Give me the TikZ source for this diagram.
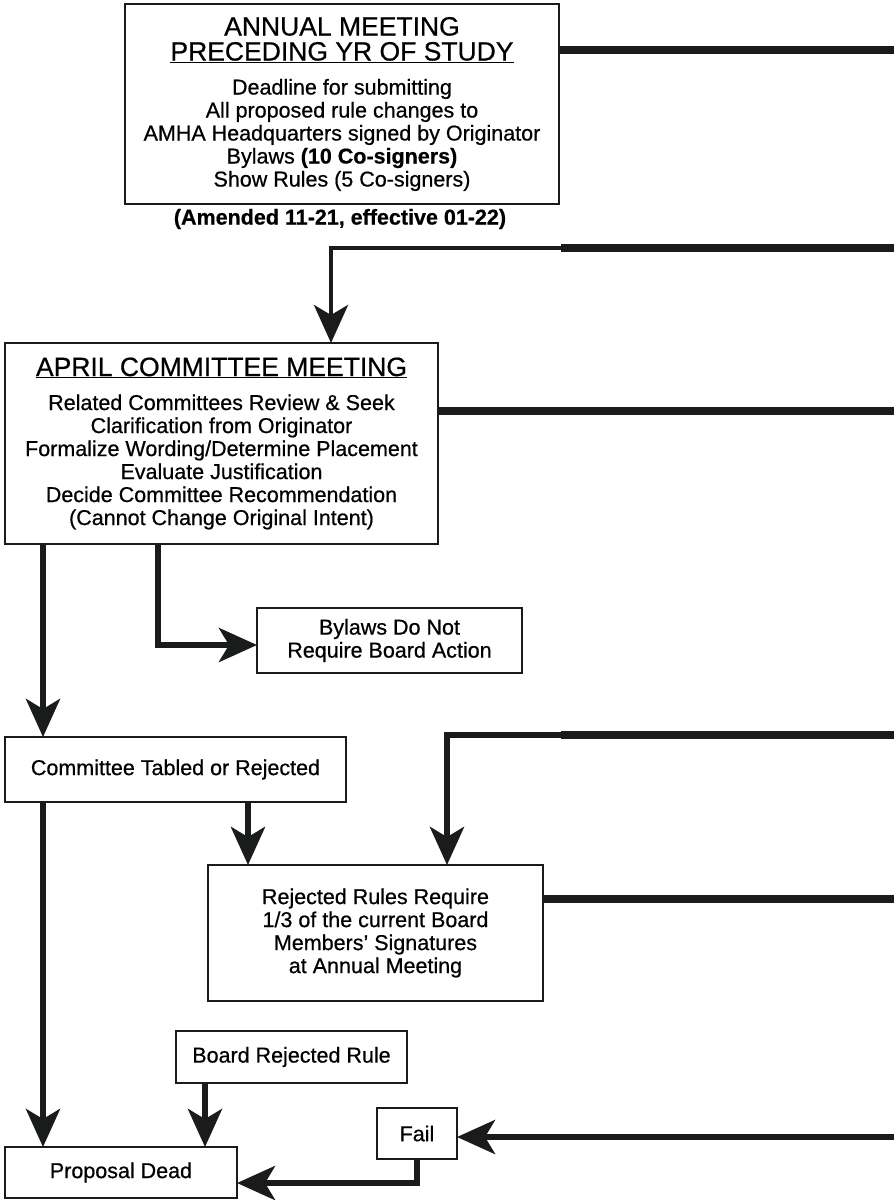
\documentclass[tikz,border=0pt]{standalone}
\usepackage{fontspec}
\setmainfont{Liberation Sans}[FakeBold=0.6]
\usetikzlibrary{arrows.meta}

\definecolor{ink}{HTML}{1A1C1C}
\newcommand{\headfont}{\fontsize{26.5}{25}\selectfont}

\begin{document}
\begin{tikzpicture}[x=1pt,y=-1pt, font=\fontsize{21.5}{23}\selectfont,
    box/.style={draw=ink, line width=2.8pt, align=center, inner sep=0pt, outer sep=0pt},
    flow/.style={draw=ink, line width=6pt},
    thinflow/.style={draw=ink, line width=4.5pt},
    trunk/.style={draw=ink, line width=8pt},
    arrowline/.style={-{Stealth[length=38pt,width=34pt,inset=10pt]}}]

      \useasboundingbox (0,0) rectangle (894,1200);

      \begin{scope}[every node/.style={box}]
        \node[minimum width=434, minimum height=200] (annual) at (342,104)
          {{\headfont ANNUAL MEETING}\\[2pt]
           {\headfont\underline{PRECEDING YR OF STUDY}}\\[11pt]
           Deadline for submitting\\
           All proposed rule changes to\\
           AMHA Headquarters signed by Originator\\
           Bylaws \textbf{(10 Co-signers)}\\
           Show Rules (5 Co-signers)};
        \node[minimum width=433, minimum height=201] (april) at (221.5,443.5)
          {{\headfont\underline{APRIL COMMITTEE MEETING}}\\[11pt]
           Related Committees Review \& Seek\\
           Clarification from Originator\\
           Formalize Wording/Determine Placement\\
           Evaluate Justification\\
           Decide Committee Recommendation\\
           (Cannot Change Original Intent)};
        \node[minimum width=265, minimum height=65] (bylaws) at (389.5,640.5)
          {Bylaws Do Not\\Require Board Action};
        \node[minimum width=341, minimum height=65] (tabled) at (175.5,769.5)
          {Committee Tabled or Rejected};
        \node[minimum width=335, minimum height=136] (rejected) at (375.5,933)
          {Rejected Rules Require\\1/3 of the current Board\\Members' Signatures\\at Annual Meeting};
        \node[minimum width=231, minimum height=52] (board) at (291.5,1057) {Board Rejected Rule};
        \node[minimum width=232, minimum height=51] (dead) at (121,1172.5) {Proposal Dead};
        \node[minimum width=80, minimum height=51] (fail) at (417,1133.5) {Fail};
      \end{scope}

      \node[font=\fontsize{21.5}{23}\selectfont\bfseries] (amended) at (340,219)
        {(Amended 11-21, effective 01-22)};

      % lanes and ends at the right margin
      \coordinate (lane1) at (43,0);
      \coordinate (lane2) at (158,0);
      \coordinate (lane3) at (248,0);
      \coordinate (lane4) at (331,0);
      \coordinate (lane5) at (447,0);
      \coordinate (lane6) at (205,0);
      \coordinate (out1) at (894,50);
      \coordinate (out2) at (894,248);
      \coordinate (split2) at (561,248);
      \coordinate (out3) at (894,411);
      \coordinate (out4) at (894,735);
      \coordinate (split4) at (561,735);
      \coordinate (out5) at (894,899);
      \coordinate (out6) at (894,1137);

      \draw[trunk] (annual.east |- out1) -- (out1);
      \draw[trunk] (out2) -- (split2);
      \draw[thinflow,arrowline] (split2) -| (april.north -| lane4);
      \draw[trunk] (april.east |- out3) -- (out3);
      \draw[flow,arrowline] (april.south -| lane1) -- (tabled.north -| lane1);
      \draw[flow,arrowline] (april.south -| lane2) |- ([yshift=-4.5pt]bylaws.west);
      \draw[trunk] (out4) -- (split4);
      \draw[flow,arrowline] (split4) -| (rejected.north -| lane5);
      \draw[flow,arrowline] (tabled.south -| lane3) -- (rejected.north -| lane3);
      \draw[flow,arrowline] (tabled.south -| lane1) -- (dead.north -| lane1);
      \draw[trunk] (rejected.east |- out5) -- (out5);
      \draw[flow,arrowline] (board.south -| lane6) -- (dead.north -| lane6);
      \draw[flow,arrowline] (out6) -- (fail.east |- out6);
      \draw[flow,arrowline] (fail.south) |- ([yshift=-10.5pt]dead.east);

    \end{tikzpicture}
\end{document}
